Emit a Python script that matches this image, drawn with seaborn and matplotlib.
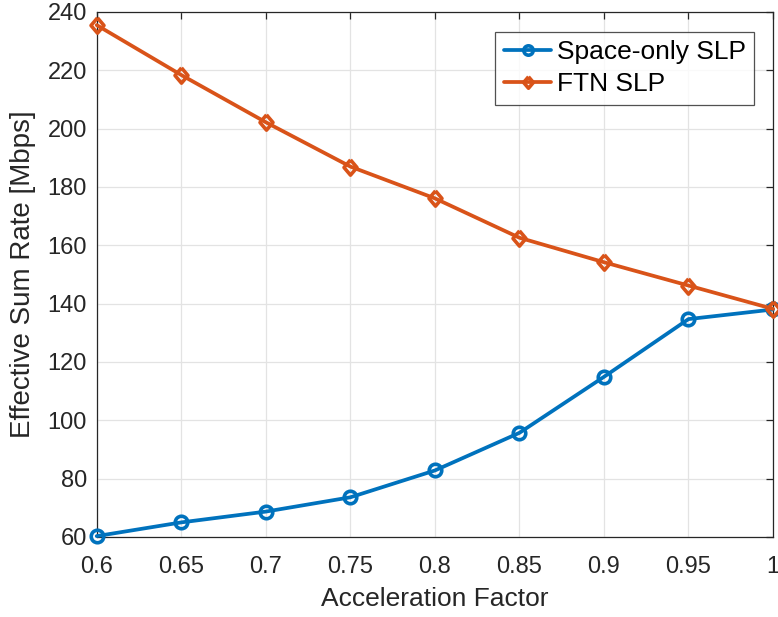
import matplotlib
matplotlib.use("Agg")
import matplotlib.pyplot as plt
import seaborn as sns
import pandas as pd

accel = [0.6, 0.65, 0.7, 0.75, 0.8, 0.85, 0.9, 0.95, 1.0]
space_only = [60.3, 65.0, 68.7, 73.6, 82.8, 95.7, 114.9, 134.7, 138.0]
ftn = [235.5, 218.4, 202.2, 187.0, 176.1, 162.6, 154.2, 146.2, 138.2]
series_names = ["Space-only SLP", "FTN SLP"]
colors = ["#0072BD", "#D95319"]
yticks = [60, 80, 100, 120, 140, 160, 180, 200, 220, 240]
xticks = [0.6, 0.65, 0.7, 0.75, 0.8, 0.85, 0.9, 0.95, 1.0]
xticklabels = ["0.6", "0.65", "0.7", "0.75", "0.8", "0.85", "0.9", "0.95", "1"]

sns.set_style("white")
plt.rcParams["font.family"] = ["Liberation Sans", "DejaVu Sans"]

df = pd.DataFrame({
    "x": accel * 2,
    "y": space_only + ftn,
    "series": [series_names[0]] * len(accel) + [series_names[1]] * len(accel),
})

diamond = [(0, 1), (0.85, 0), (0, -1), (-0.85, 0), (0, 1)]
marker_list = ["o", diamond]
marker_sizes = [9, 11]

fig = plt.figure(figsize=(7.78, 6.17), dpi=100)
ax = fig.add_axes([0.1243, 0.1297, 0.8693, 0.8509])

for name, c, m, ms in zip(series_names, colors, marker_list, marker_sizes):
    sub = df[df["series"] == name]
    sns.lineplot(data=sub, x="x", y="y", ax=ax, color=c, linewidth=2.7,
                 marker=m, markersize=ms,
                 markerfacecolor="none", markeredgecolor=c, markeredgewidth=2.6,
                 label=name, clip_on=False, zorder=3)

ax.set_xlim(0.6, 1.0)
ax.set_ylim(60, 240)
ax.set_xticks(xticks)
ax.set_xticklabels(xticklabels)
ax.set_yticks(yticks)
ax.grid(True, color="#e3e3e3", linewidth=0.9)
ax.set_axisbelow(True)
for s in ax.spines.values():
    s.set_visible(True)
    s.set_color("#262626")
    s.set_linewidth(0.9)
ax.tick_params(direction="in", length=5, width=0.9, top=True, right=True,
               labelsize=17, colors="#262626")
ax.tick_params(axis="x", pad=14)
ax.tick_params(axis="y", pad=7)
ax.set_xlabel("Acceleration Factor", fontsize=19, color="#262626", labelpad=6)
ax.set_ylabel("Effective Sum Rate [Mbps]", fontsize=20, color="#262626", labelpad=8)

leg = ax.legend(loc="upper right", fontsize=19, frameon=True, fancybox=False,
                edgecolor="#262626", handlelength=1.8, borderpad=0.32,
                labelspacing=0.3, handletextpad=0.2, borderaxespad=0,
                markerscale=0.75, bbox_to_anchor=(0.9719, 0.962))
leg.get_frame().set_linewidth(0.9)
for t in leg.get_texts():
    t.set_color("black")

fig.savefig("out.png", dpi=100)
